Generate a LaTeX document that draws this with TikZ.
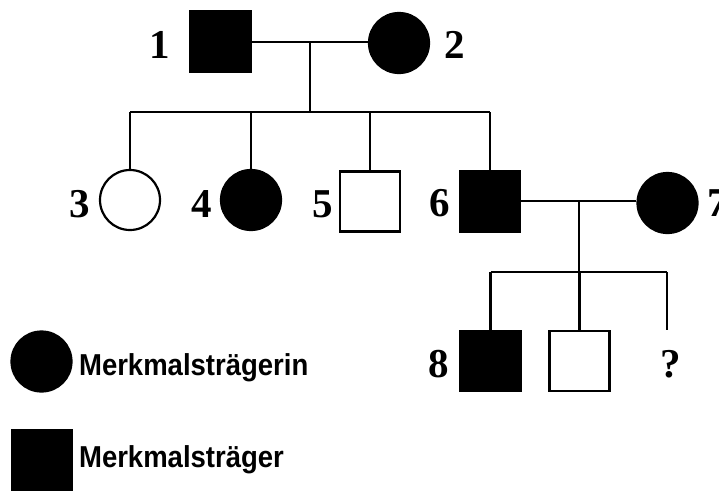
\documentclass[tikz,border=0pt]{standalone}
\usepackage{fontspec}
\setmainfont{Liberation Serif}
\newfontfamily\legendfont{Liberation Sans}
\newcommand\tallbox[1]{\scalebox{1}[1.1]{#1}}
\begin{document}
\begin{tikzpicture}[x=1pt,y=-1pt,
  line width=2.2pt,
  male/.style={draw=black,rectangle,minimum size=60pt,inner sep=0pt},
  female/.style={draw=black,circle,minimum size=60pt,inner sep=0pt},
  affected/.style={fill=black},
  healthy/.style={fill=white},
  num/.style={anchor=base,inner sep=0pt,font=\fontsize{41}{41}\selectfont\bfseries},
  legendtext/.style={anchor=base west,inner sep=0pt,font=\legendfont\fontsize{27.5}{28}\selectfont\bfseries}]
\useasboundingbox (0,0) rectangle (719,491);

% first generation
\node[male,affected]   (p1) at (220.5,41.5) {};
\node[female,affected] (p2) at (399,43) {};
\node[num] (n1) at (159.5,58) {1};
\node[num] (n2) at (455,58) {2};

% second generation
\node[female,healthy]  (p3) at (130,200) {};
\node[female,affected] (p4) at (251,200) {};
\node[male,healthy]    (p5) at (370,201.5) {};
\node[male,affected]   (p6) at (490,201.5) {};
\node[female,affected] (p7) at (667.5,203) {};
\node[num] (n3) at (79.5,217) {3};
\node[num] (n4) at (202,217) {4};
\node[num] (n5) at (322.5,217) {5};
\node[num] (n6) at (439.5,216) {6};
\node[num] (n7) at (718,216) {7};

% third generation
\node[male,affected] (p8) at (490.5,361) {};
\node[male,healthy]  (p9) at (579.5,361) {};
\node[num] (q) at (671,377) {?};
\node[num] (n8) at (439,377) {8};
\coordinate (qtop) at (667,330);

% marriage and sibship lines, first family
\coordinate (m1) at (310,42);
\coordinate (s1) at (310,112);
\draw (p1.east |- m1) -- (p2.west |- m1);
\draw (m1) -- (s1);
\draw (p3.north |- s1) -- (p6.north |- s1);
\foreach \c in {p3,p4,p5,p6} \draw (\c.north |- s1) -- (\c.north);

% marriage and sibship lines, second family
\coordinate (m2) at (579,201);
\coordinate (s2) at (579,272);
\draw (p6.east |- m2) -- (p7.west |- m2);
\draw (m2) -- (s2);
\draw (p8.north |- s2) -- (qtop |- s2);
\foreach \c in {p8,p9} \draw (\c.north |- s2) -- (\c.north);
\draw (qtop |- s2) -- (qtop);

% legend
\node[female,affected] (lf) at (41.5,361.5) {};
\node[male,affected]   (lm) at (42,460) {};
\node[legendtext] (tf) at (78,375) {\tallbox{Merkmalsträgerin}};
\node[legendtext] (tm) at (78,467) {\tallbox{Merkmalsträger}};
\end{tikzpicture}
\end{document}
